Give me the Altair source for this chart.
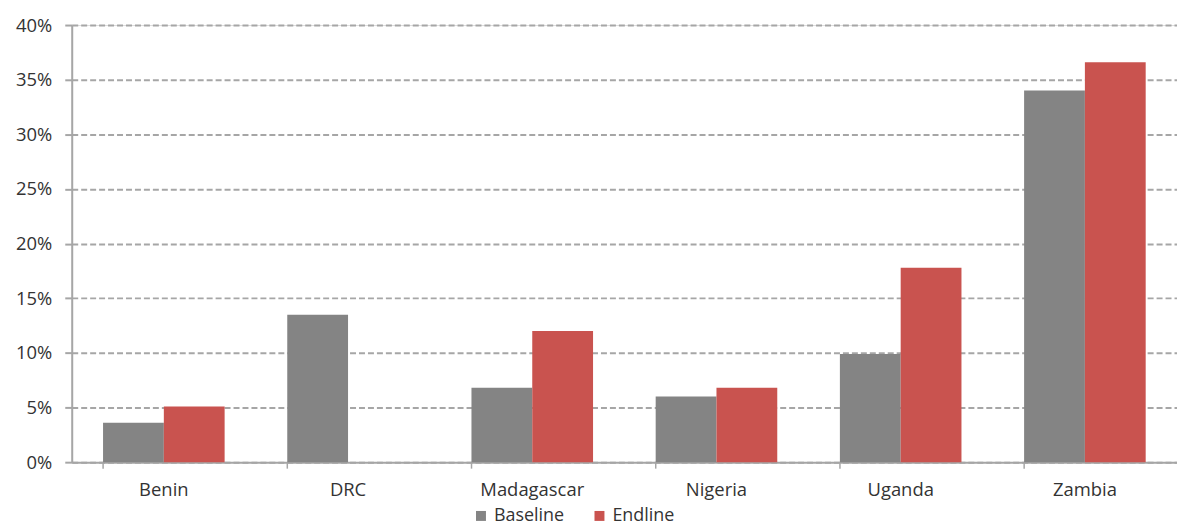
import altair as alt
import pandas as pd

countries = ["Benin", "DRC", "Madagascar", "Nigeria", "Uganda", "Zambia"]
series_names = ["Baseline", "Endline"]
baseline = [0.036, 0.135, 0.068, 0.060, 0.099, 0.340]
endline = [0.051, None, 0.120, 0.068, 0.178, 0.366]
y_ticks = [0, 0.05, 0.10, 0.15, 0.20, 0.25, 0.30, 0.35, 0.40]
colors = ["#848484", "#c9534f"]

rows = []
for c, b, e in zip(countries, baseline, endline):
    if b is not None:
        rows.append({"country": c, "series": "Baseline", "value": b})
    if e is not None:
        rows.append({"country": c, "series": "Endline", "value": e})
df = pd.DataFrame(rows)

FONT = "Open Sans"
AXIS_COL = "#a6a6a6"
TEXT_COL = "#333333"

chart = alt.Chart(df).mark_bar().encode(
    x=alt.X(
        "country:N",
        sort=countries,
        scale=alt.Scale(paddingInner=0.34, paddingOuter=0.17),
        axis=alt.Axis(
            title=None, labelAngle=0, bandPosition=0, grid=False,
            ticks=True, tickSize=6, tickColor=AXIS_COL, tickWidth=1.5,
            domainColor=AXIS_COL, domainWidth=2,
            labelFont=FONT, labelFontSize=18.5, labelColor=TEXT_COL,
            labelPadding=12,
        ),
    ),
    xOffset=alt.XOffset("series:N", sort=series_names,
                        scale=alt.Scale(paddingInner=0, paddingOuter=0)),
    y=alt.Y(
        "value:Q",
        scale=alt.Scale(domain=[0, 0.4], nice=False),
        axis=alt.Axis(
            title=None, format=".0%", values=y_ticks,
            grid=True, gridDash=[6, 3], gridColor=AXIS_COL, gridWidth=2,
            tickSize=7, tickColor=AXIS_COL, tickWidth=2,
            domainColor=AXIS_COL, domainWidth=2,
            labelFont=FONT, labelFontSize=18.5, labelColor=TEXT_COL,
            labelPadding=13,
        ),
    ),
    color=alt.Color(
        "series:N",
        scale=alt.Scale(domain=series_names, range=colors),
        legend=alt.Legend(
            title=None, orient="none", direction="horizontal",
            legendX=402, legendY=484, padding=0,
            symbolType="square", symbolSize=100, symbolStrokeWidth=0,
            labelFont=FONT, labelFontSize=18, labelColor=TEXT_COL,
            labelOffset=4, columnPadding=26,
        ),
    ),
).properties(
    width=1110, height=439,
    autosize=alt.AutoSizeParams(type="none"),
    padding={"left": 64, "top": 16, "right": 0, "bottom": 66},
).configure_view(stroke=None).configure(background="white")

chart.save("out.html", embed_options={"renderer": "svg", "actions": False})
